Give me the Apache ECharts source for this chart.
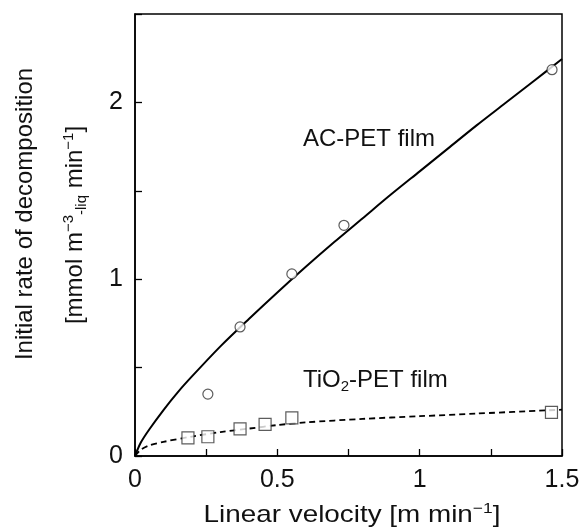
<!DOCTYPE html>
<html>
<head>
<meta charset="utf-8">
<script src="https://cdn.jsdelivr.net/npm/echarts@6/dist/echarts.min.js"></script>
<style>
  html, body { margin: 0; padding: 0; background: #fff; }
  #main { width: 579px; height: 532px; }
</style>
</head>
<body>
<div id="main"></div>
<script>
// measured points
var acX = [0.256, 0.369, 0.551, 0.734, 1.465];
var acY = [0.35, 0.73, 1.03, 1.305, 2.185];
var tiX = [0.186, 0.256, 0.369, 0.457, 0.551, 1.463];
var tiY = [0.103, 0.109, 0.153, 0.179, 0.216, 0.247];

// fitted curves
var acFitX = [0, 0.02, 0.05, 0.1, 0.15, 0.2, 0.3, 0.4, 0.5, 0.6, 0.7, 0.8, 0.9, 1.0, 1.1, 1.2, 1.3, 1.4, 1.5];
var acFitY = [0, 0.075, 0.15, 0.26, 0.36, 0.45, 0.62, 0.775, 0.925, 1.07, 1.21, 1.345, 1.48, 1.61, 1.74, 1.87, 1.995, 2.12, 2.245];
var tiFitX = [0, 0.02, 0.05, 0.1, 0.2, 0.3, 0.4, 0.5, 0.6, 0.8, 1.0, 1.2, 1.5];
var tiFitY = [0, 0.035, 0.06, 0.08, 0.11, 0.135, 0.155, 0.175, 0.19, 0.21, 0.225, 0.24, 0.262];

var xTickLabels = ['0', '0.5', '1', '1.5'];
var yTickLabels = ['0', '1', '2'];

function pairs(xs, ys) {
    return xs.map(function (x, i) { return [x, ys[i]]; });
}

var FONT = '"Liberation Sans", Arial, Helvetica, sans-serif';

var chart = echarts.init(document.getElementById('main'));

chart.setOption({
    animation: false,
    backgroundColor: '#fff',
    grid: {
        left: 135, right: 17, top: 14, bottom: 76,
        outerBoundsMode: 'none', containLabel: false,
        show: true, borderColor: '#000', borderWidth: 1.5, backgroundColor: 'transparent'
    },
    xAxis: {
        type: 'value', min: 0, max: 1.5, interval: 0.25,
        axisLine: { show: true, lineStyle: { color: '#000', width: 1.5 } },
        axisTick: { show: true, inside: true, length: 7, lineStyle: { color: '#000', width: 1.3 } },
        splitLine: { show: false },
        axisLabel: {
            margin: 12, color: '#111', fontSize: 25, fontFamily: FONT,
            formatter: function (v) {
                var s = String(+v.toFixed(2));
                return xTickLabels.indexOf(s) >= 0 ? s : '';
            }
        }
    },
    yAxis: {
        type: 'value', min: 0, max: 2.5, interval: 0.5,
        axisLine: { show: true, lineStyle: { color: '#000', width: 1.5 } },
        axisTick: { show: true, inside: true, length: 7, lineStyle: { color: '#000', width: 1.3 } },
        splitLine: { show: false },
        axisLabel: {
            margin: 12, color: '#111', fontSize: 25, fontFamily: FONT,
            formatter: function (v) {
                var s = String(+v.toFixed(2));
                return yTickLabels.indexOf(s) >= 0 ? s : '';
            }
        }
    },
    graphic: [
        {   // x axis title (the original type is a little wide)
            type: 'text', x: 352, y: 515, scaleX: 1.16,
            style: {
                text: '{n|Linear velocity [m min}{sup|\u22121}{n|]}',
                fill: '#111',
                align: 'center', verticalAlign: 'middle',
                textAlign: 'center', textVerticalAlign: 'middle',
                rich: {
                    n: { fontSize: 24, lineHeight: 28, fontFamily: FONT, fill: '#111' },
                    sup: { fontSize: 15, lineHeight: 16, verticalAlign: 'top', fontFamily: FONT, fill: '#111' }
                }
            }
        },
        {
            type: 'text', x: 25, y: 214, rotation: Math.PI / 2,
            style: {
                text: 'Initial rate of decomposition',
                font: '24px ' + FONT, fill: '#111',
                align: 'center', verticalAlign: 'middle',
                textAlign: 'center', textVerticalAlign: 'middle'
            }
        },
        {
            type: 'text', x: 75, y: 225, rotation: Math.PI / 2,
            style: {
                text: '{n|[mmol m}{sup|\u22123}{sub|-liq}{n| min}{sup|\u22121}{n|]}',
                fill: '#111',
                align: 'center', verticalAlign: 'middle',
                textAlign: 'center', textVerticalAlign: 'middle',
                rich: {
                    n: { fontSize: 24, lineHeight: 28, fontFamily: FONT, fill: '#111' },
                    sup: { fontSize: 15, lineHeight: 16, verticalAlign: 'top', fontFamily: FONT, fill: '#111' },
                    sub: { fontSize: 15, lineHeight: 16, verticalAlign: 'bottom', fontFamily: FONT, fill: '#111' }
                }
            }
        },
        {
            type: 'text', x: 303, y: 139,
            style: {
                text: 'AC-PET film', font: '24px ' + FONT, fill: '#111',
                align: 'left', verticalAlign: 'middle',
                textAlign: 'left', textVerticalAlign: 'middle'
            }
        },
        {
            type: 'text', x: 303, y: 380,
            style: {
                text: '{n|TiO}{sub|2}{n|-PET film}',
                fill: '#111',
                align: 'left', verticalAlign: 'middle',
                textAlign: 'left', textVerticalAlign: 'middle',
                rich: {
                    n: { fontSize: 24, lineHeight: 28, fontFamily: FONT, fill: '#111' },
                    sub: { fontSize: 15, lineHeight: 16, verticalAlign: 'bottom', fontFamily: FONT, fill: '#111' }
                }
            }
        }
    ],
    series: [
        {
            type: 'line', data: pairs(acFitX, acFitY), smooth: 0.3,
            showSymbol: false, silent: true, z: 2,
            lineStyle: { color: '#000', width: 2 }
        },
        {
            type: 'line', data: pairs(tiFitX, tiFitY), smooth: 0.3,
            showSymbol: false, silent: true, z: 2,
            lineStyle: { color: '#000', width: 1.8, type: [6, 4] }
        },
        {
            type: 'scatter', data: pairs(acX, acY), symbol: 'circle', symbolSize: 10, z: 3,
            itemStyle: { color: '#fff', borderColor: '#333', borderWidth: 1.2 }
        },
        {
            type: 'scatter', data: pairs(tiX, tiY), symbol: 'rect', symbolSize: 12, z: 3,
            itemStyle: { color: '#fff', borderColor: '#333', borderWidth: 1.2 }
        }
    ]
});
</script>
</body>
</html>
